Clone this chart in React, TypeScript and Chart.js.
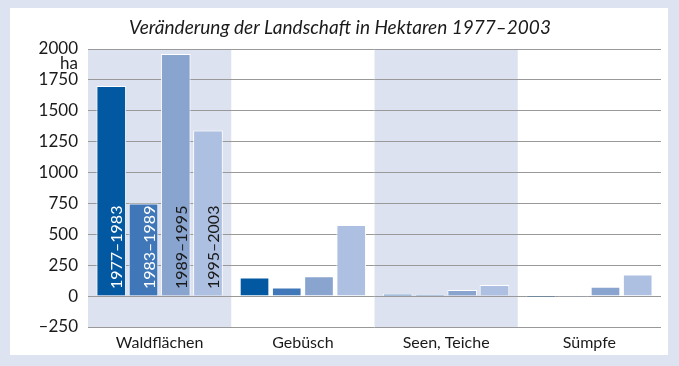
import React, { useEffect, useRef } from "react";
import { Chart, registerables } from "chart.js";

Chart.register(...registerables);

const categories = ["Waldflächen", "Gebüsch", "Seen, Teiche", "Sümpfe"];
const periods = ["1977–1983", "1983–1989", "1989–1995", "1995–2003"];
const values1977 = [1700, 150, 20, -10];
const values1983 = [750, 70, 12, -8];
const values1989 = [1960, 160, 50, 75];
const values1995 = [1340, 575, 90, 175];
const seriesColors = ["#0358a2", "#3f77b9", "#88a4cf", "#adc0e1"];
const labelColors = ["#ffffff", "#ffffff", "#1a1a1a", "#1a1a1a"];
const shadedCategories = [0, 2];
const yMin = -250;
const yMax = 2000;
const yStep = 250;
const title = "Veränderung der Landschaft in Hektaren 1977–2003";
const unit = "ha";

const FONT = "Lato, 'Open Sans', sans-serif";
const OUTER_BG = "#dde3f0";
const BAND = "#dce2ef";

const decorPlugin = {
  id: "decor",
  beforeDraw(chart: any) {
    const { ctx, width, height, chartArea } = chart;
    ctx.save();
    ctx.fillStyle = OUTER_BG;
    ctx.fillRect(0, 0, width, height);
    ctx.fillStyle = "#ffffff";
    ctx.fillRect(10, 8, 658, 347);
    const n = categories.length;
    const w = (chartArea.right - chartArea.left) / n;
    ctx.fillStyle = BAND;
    shadedCategories.forEach((i) => {
      ctx.fillRect(chartArea.left + i * w, chartArea.top, w, chartArea.bottom - chartArea.top);
    });
    ctx.fillStyle = "#1a1a1a";
    ctx.font = `italic 19px ${FONT}`;
    ctx.textAlign = "center";
    ctx.textBaseline = "middle";
    ctx.fillText(title, 340, 28);
    ctx.restore();
  },
  afterDatasetsDraw(chart: any) {
    const { ctx, scales } = chart;
    ctx.save();
    ctx.fillStyle = "#1a1a1a";
    ctx.font = `17px ${FONT}`;
    ctx.textAlign = "right";
    ctx.textBaseline = "middle";
    ctx.fillText(unit, 78, scales.y.getPixelForValue(yMax) + 15);
    const zeroY = scales.y.getPixelForValue(0);
    periods.forEach((p, i) => {
      const meta = chart.getDatasetMeta(i);
      const bar = meta.data[0];
      if (!bar) return;
      ctx.save();
      ctx.translate(bar.x + 11, zeroY - 7);
      ctx.rotate(-Math.PI / 2);
      ctx.fillStyle = labelColors[i];
      ctx.font = `16px ${FONT}`;
      ctx.textAlign = "left";
      ctx.textBaseline = "alphabetic";
      ctx.fillText(p, 0, 0);
      ctx.restore();
    });
    ctx.restore();
  },
};

export default function App() {
  const ref = useRef<HTMLCanvasElement>(null);
  useEffect(() => {
    document.body.style.margin = "0";
    document.body.style.background = OUTER_BG;
    const series = [values1977, values1983, values1989, values1995];
    const chart = new Chart(ref.current!, {
      type: "bar",
      data: {
        labels: categories,
        datasets: series.map((d, i) => ({
          label: periods[i],
          data: d,
          backgroundColor: seriesColors[i],
          borderColor: "#ffffff",
          borderWidth: 1,
          borderSkipped: "start",
          categoryPercentage: 0.9,
          barPercentage: 0.92,
        })),
      },
      options: {
        responsive: false,
        animation: false,
        devicePixelRatio: 1,
        layout: { padding: { left: 0, right: 18, top: 49, bottom: 0 } },
        plugins: {
          legend: { display: false },
          title: { display: false },
          tooltip: { enabled: false },
        },
        scales: {
          x: {
            grid: { display: false, drawTicks: false },
            border: { display: false },
            ticks: { color: "#1a1a1a", font: { family: FONT, size: 16 }, padding: 6 },
            afterFit(scale: any) {
              scale.height = 39;
            },
          },
          y: {
            min: yMin,
            max: yMax,
            grid: { color: "#999999", lineWidth: 1, drawTicks: false },
            border: { display: false },
            ticks: {
              stepSize: yStep,
              color: "#1a1a1a",
              font: { family: FONT, size: 17 },
              padding: 10,
              callback: (v: any) => (v < 0 ? "–" + Math.abs(v) : String(v)),
            },
            afterFit(scale: any) {
              scale.width = 88;
            },
          },
        },
      },
      plugins: [decorPlugin],
    });
    return () => chart.destroy();
  }, []);
  return <canvas ref={ref} width={679} height={366} style={{ display: "block" }} />;
}
